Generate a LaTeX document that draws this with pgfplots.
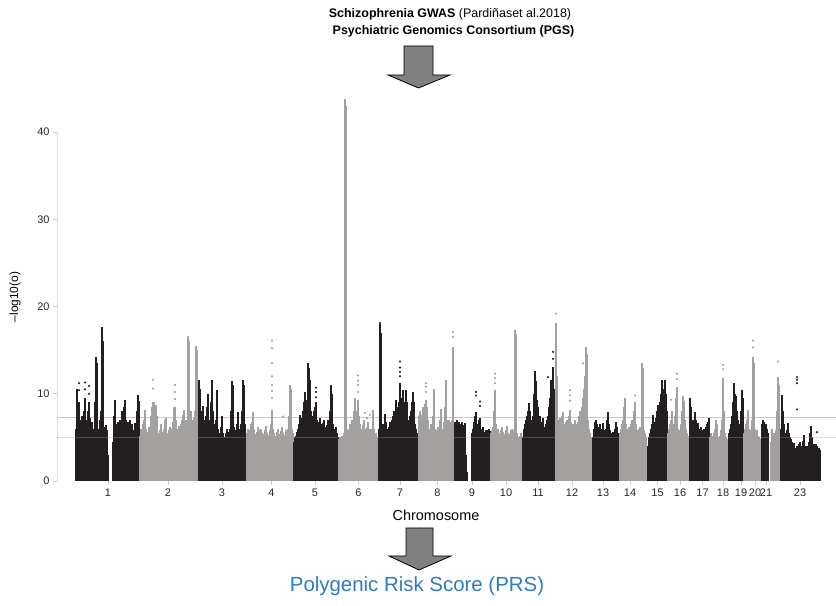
\documentclass[border=0pt]{standalone}
\usepackage{pgfplots}
\pgfplotsset{compat=1.18}
\usepackage{fontspec}
\setmainfont{Liberation Sans}
\definecolor{chrblack}{RGB}{35,31,32}
\definecolor{chrgray}{RGB}{163,160,160}
\definecolor{prsblue}{RGB}{47,123,192}
\definecolor{arrowgray}{RGB}{128,128,128}
\definecolor{sigred}{RGB}{236,186,186}
\definecolor{suglav}{RGB}{150,150,205}
\pgfplotsset{
  blk/.style={ycomb, no marks, draw=chrblack, line width=1.1bp},
  gry/.style={ycomb, no marks, draw=chrgray, line width=1.1bp},
}
\begin{document}
\begin{tikzpicture}[x=1bp,y=1bp]
\useasboundingbox (0,0) rectangle (836,606);
% titles
\node[font=\fontsize{12.5}{14}\selectfont] at (450,592) {\textbf{Schizophrenia GWAS} (Pardiñaset al.2018)};
\node[font=\fontsize{12.5}{14}\selectfont\bfseries] at (453.5,575) {Psychiatric Genomics Consortium (PGS)};
% arrow 1
\draw[fill=arrowgray, line width=0.8bp, line join=miter] (404,560) -- (433,560) -- (433,531) -- (450,531) -- (418.5,518) -- (388,531) -- (404,531) -- cycle;
% arrow 2
\draw[fill=arrowgray, line width=0.8bp, line join=miter] (406,78) -- (433,78) -- (433,50) -- (451,50) -- (419,36) -- (389,50) -- (406,50) -- cycle;
\node[font=\fontsize{20.5}{22}\selectfont, text=prsblue] at (417,20) {Polygenic Risk Score (PRS)};
\node[font=\fontsize{14.5}{16}\selectfont] at (436,91) {Chromosome};
\node[font=\fontsize{12}{14}\selectfont, rotate=90] at (15,309) {--log10(o)};
\begin{axis}[
  at={(57bp,125bp)}, anchor=south west,
  x=1bp, y=8.725bp,
  xmin=57, xmax=836, ymin=0, ymax=40,
  enlargelimits=false, clip=false,
  axis lines*=left,
  x axis line style={draw=none},
  y axis line style={draw=gray!25, line width=0.6bp},
  tick style={draw=gray!40, line width=0.6bp},
  tick align=outside, major tick length=4bp,
  ytick={0,10,20,30,40},
  xtick={108,168,222,271.5,315,358.5,400,437.5,472,506,538,572,603,630,657.5,680,702.5,723,741,755,766,800},
  xticklabels={1,2,3,4,5,6,7,8,9,10,11,12,13,14,15,16,17,18,19,20,21,23},
  tick label style={font=\fontsize{11}{12}\selectfont, text=black!85},
  /pgf/number format/assume math mode=true,
]
% significance line (behind the data)
\addplot[draw=sigred, line width=0.6bp, no marks] coordinates {(57,7.3)(836,7.3)};
% chr1
\addplot[blk] coordinates {(76,6.0)(77,10.5)(78,8.5)(79,9.0)(80,7.0)(81,5.0)(82,7.5)(83,6.5)(84,8.0)(85,9.5)(86,7.0)(87,5.2)(88,8.0)(89,9.0)(90,7.2)(91,5.5)(92,6.8)(93,4.8)(94,6.0)(95,9.0)(96,14.2)(97,13.5)(98,6.0)(99,5.0)(100,7.0)(101,8.0)(102,17.7)(103,16.0)(104,6.2)(105,5.5)(106,6.4)(107,5.8)(108,3.0)
 (113,4.5)(114,7.5)(115,9.3)(116,6.5)(117,5.5)(118,6.8)(119,6.2)(120,7.0)(121,5.4)(122,8.0)(123,7.2)(124,8.5)(125,9.3)(126,7.0)(127,5.5)(128,6.8)(129,6.0)(130,7.0)(131,5.2)(132,6.5)(133,5.8)(134,5.0)(135,6.6)(136,6.0)(137,8.0)(138,9.8)(139,9.2)};
% chr2
\addplot[gry] coordinates {(140,5.2)(141,6.0)(142,5.5)(143,6.5)(144,7.0)(145,8.1)(146,6.0)(147,5.6)(148,5.0)(149,6.2)(150,5.4)(151,7.5)(152,8.5)(153,9.0)(154,9.0)(155,6.0)(156,8.7)(157,7.5)(158,5.5)(159,5.0)(160,5.8)(161,6.5)(162,5.2)(163,5.6)(164,6.0)(165,7.0)(166,7.2)(167,5.5)(168,5.0)(169,5.8)(170,6.2)(171,5.4)(172,6.0)(173,6.8)(174,8.5)(175,8.5)(176,7.0)(177,6.0)(178,5.6)(179,6.3)(180,5.8)(181,6.5)(182,7.0)(183,7.6)(184,8.1)(185,6.5)(186,7.0)(187,6.2)(188,16.5)(189,16.0)(190,7.0)(191,8.0)(192,7.0)(193,6.5)(194,7.2)(195,8.0)(196,15.5)(197,15.0)(198,7.0)};
% chr3
\addplot[blk] coordinates {(199,11.6)(200,10.5)(201,8.0)(202,7.5)(203,8.6)(204,7.0)(205,6.5)(206,7.5)(207,8.5)(208,10.0)(209,7.0)(210,6.0)(211,9.0)(212,11.6)(213,8.0)(214,6.5)(215,5.5)(216,7.0)(217,10.4)(218,6.0)(219,5.2)(220,5.5)(221,6.2)(222,7.4)(223,5.5)(224,5.0)(225,4.8)(226,5.5)(227,6.0)(228,5.2)(229,5.6)(230,6.0)(231,8.0)(232,11.5)(233,11.0)(234,6.2)(235,5.5)(236,5.8)(237,6.5)(238,7.9)(239,6.0)(240,5.6)(241,6.5)(242,8.0)(243,11.6)(244,11.0)(245,6.5)(246,5.5)};
% chr4
\addplot[gry] coordinates {(247,5.5)(248,6.0)(249,5.2)(250,5.8)(251,6.5)(252,6.8)(253,7.9)(254,6.0)(255,5.4)(256,5.0)(257,5.6)(258,6.2)(259,5.8)(260,5.2)(261,6.0)(262,5.5)(263,5.0)(264,5.4)(265,5.8)(266,6.3)(267,5.5)(268,5.0)(269,5.3)(270,5.8)(271,6.5)(272,8.1)(273,6.0)(274,5.5)(275,5.2)(276,5.0)(277,5.6)(278,6.0)(279,5.4)(280,5.2)(281,5.7)(282,6.2)(283,5.5)(284,5.0)(285,5.3)(286,5.8)(287,5.2)(288,6.0)(289,7.5)(290,11.0)(291,10.5)(292,6.0)(293,5.5)};
% chr5
\addplot[blk] coordinates {(294,4.5)(295,5.0)(296,5.2)(297,5.6)(298,6.0)(299,6.5)(300,7.6)(301,6.8)(302,7.2)(303,8.0)(304,9.0)(305,10.2)(306,9.3)(307,8.5)(308,13.5)(309,13.0)(310,11.6)(311,8.0)(312,7.5)(313,7.0)(314,8.0)(315,8.5)(316,9.0)(317,7.0)(318,6.5)(319,6.8)(320,7.2)(321,6.5)(322,6.0)(323,6.6)(324,7.0)(325,6.2)(326,5.8)(327,6.4)(328,7.0)(329,6.0)(330,8.0)(331,11.0)(332,10.0)(333,6.5)(334,6.0)(335,5.8)(336,6.2)(337,5.5)(338,5.0)};
% chr6
\addplot[gry] coordinates {(339,4.8)(340,5.0)(341,4.6)(342,5.2)(343,4.8)(344,5.5)(345,43.8)(346,43.0)(347,6.0)(348,5.5)(349,5.8)(350,6.5)(351,6.0)(352,7.0)(353,6.2)(354,8.0)(355,9.5)(356,8.0)(357,7.0)(358,9.3)(359,7.5)(360,6.5)(361,6.0)(362,5.8)(363,6.4)(364,7.0)(365,6.0)(366,5.6)(367,6.2)(368,6.8)(369,6.0)(370,5.5)(371,6.0)(372,5.4)(373,8.1)(374,6.0)(375,5.2)(376,5.5)(377,5.0)(378,4.8)};
% chr7
\addplot[blk] coordinates {(379,6.0)(380,18.0)(381,17.0)(382,6.5)(383,5.8)(384,6.5)(385,7.7)(386,6.8)(387,6.0)(388,5.5)(389,6.2)(390,6.8)(391,6.0)(392,7.0)(393,7.5)(394,8.0)(395,7.0)(396,9.3)(397,8.5)(398,7.5)(399,9.0)(400,11.2)(401,9.5)(402,8.0)(403,10.4)(404,9.0)(405,7.5)(406,10.4)(407,9.0)(408,7.0)(409,6.5)(410,7.5)(411,8.0)(412,9.0)(413,10.2)(414,9.0)(415,6.5)(416,6.0)(417,5.5)(418,5.0)};
% chr8
\addplot[gry] coordinates {(419,7.5)(420,8.0)(421,7.0)(422,7.6)(423,8.5)(424,7.2)(425,8.8)(426,9.3)(427,8.5)(428,7.0)(429,6.0)(430,5.2)(431,6.5)(432,5.6)(433,7.5)(434,10.6)(435,6.0)(436,5.0)(437,5.8)(438,6.2)(439,5.5)(440,7.0)(441,8.3)(442,5.5)(443,6.0)(444,6.8)(445,8.5)(446,11.6)(447,7.0)(448,6.5)(449,7.0)(450,6.0)(451,6.8)(452,7.0)(453,15.4)};
% chr9
\addplot[blk] coordinates {(455,6.8)(456,6.5)(457,7.0)(458,6.6)(459,6.8)(460,6.5)(461,6.2)(462,6.8)(463,6.0)(464,6.4)(465,6.6)(466,3.0)(467,1.0)
 (472,5.5)(473,6.0)(474,6.8)(475,7.5)(476,7.9)(477,6.5)(478,6.0)(479,7.0)(480,7.2)(481,6.0)(482,5.8)(483,6.2)(484,5.6)(485,5.4)(486,5.8)(487,5.6)(488,5.8)(489,6.0)(490,5.7)};
% chr10
\addplot[gry] coordinates {(491,5.5)(492,5.8)(493,6.2)(494,8.0)(495,10.4)(496,6.5)(497,5.8)(498,6.0)(499,5.5)(500,5.2)(501,5.8)(502,6.2)(503,5.6)(504,5.0)(505,5.4)(506,5.8)(507,6.3)(508,5.5)(509,5.0)(510,5.4)(511,5.8)(512,6.0)(513,5.5)(514,5.8)(515,17.3)(516,16.8)(517,5.5)(518,5.0)(519,4.8)(520,5.2)(521,5.5)(522,5.0)};
% chr11
\addplot[blk] coordinates {(523,5.0)(524,6.0)(525,6.5)(526,7.0)(527,7.5)(528,8.0)(529,8.9)(530,8.0)(531,7.0)(532,6.5)(533,7.5)(534,10.0)(535,12.6)(536,11.5)(537,9.3)(538,8.5)(539,7.0)(540,7.5)(541,6.8)(542,6.5)(543,7.2)(544,6.2)(545,5.8)(546,6.5)(547,7.0)(548,7.5)(549,8.5)(550,9.5)(551,11.6)(552,10.0)(553,13.1)(554,10.6)(555,8.0)};
% chr12
\addplot[gry] coordinates {(556,18.1)(557,12.0)(558,7.0)(559,6.5)(560,7.2)(561,6.8)(562,7.5)(563,7.9)(564,6.5)(565,6.0)(566,6.8)(567,7.0)(568,6.5)(569,7.5)(570,8.1)(571,6.8)(572,6.0)(573,6.5)(574,6.2)(575,7.0)(576,6.5)(577,6.0)(578,6.8)(579,7.5)(580,8.0)(581,7.0)(582,8.5)(583,9.5)(584,10.5)(585,12.0)(586,15.4)(587,14.5)(588,7.0)(589,6.0)(590,5.5)(591,5.0)(592,4.8)};
% chr13
\addplot[blk] coordinates {(593,5.0)(594,6.0)(595,6.8)(596,7.0)(597,6.5)(598,6.2)(599,5.8)(600,6.5)(601,6.0)(602,5.6)(603,6.6)(604,5.8)(605,5.5)(606,6.0)(607,7.0)(608,7.9)(609,6.5)(610,5.8)(611,5.5)(612,5.2)(613,5.6)(614,5.4)(615,6.0)(616,6.8)(617,6.2)(618,5.5)};
% chr14
\addplot[gry] coordinates {(620,5.5)(621,6.0)(622,6.5)(623,7.0)(624,8.5)(625,9.5)(626,6.5)(627,6.0)(628,5.5)(629,6.2)(630,5.8)(631,6.5)(632,7.0)(633,6.0)(634,8.0)(635,9.1)(636,6.5)(637,5.8)(638,5.5)(639,6.0)(640,6.2)(641,5.5)(642,13.5)(643,13.0)(644,5.8)(645,5.5)(646,5.0)(647,3.0)};
% chr15
\addplot[blk] coordinates {(648,4.0)(649,5.0)(650,5.5)(651,6.0)(652,6.5)(653,7.6)(654,6.8)(655,6.5)(656,7.2)(657,8.0)(658,8.7)(659,8.0)(660,9.0)(661,10.0)(662,11.6)(663,10.5)(664,9.5)(665,11.6)(666,10.0)(667,8.0)};
% chr16
\addplot[gry] coordinates {(668,5.5)(669,6.0)(670,6.5)(671,7.0)(672,8.0)(673,6.2)(674,6.5)(675,7.5)(676,9.5)(677,10.8)(678,6.0)(679,5.0)(680,5.8)(681,6.5)(682,8.0)(683,9.7)(684,9.2)(685,7.0)(686,6.0)(687,5.5)(688,5.2)(689,5.0)};
% chr17
\addplot[blk] coordinates {(690,9.5)(691,8.5)(692,7.0)(693,6.5)(694,7.0)(695,7.9)(696,7.0)(697,6.5)(698,6.6)(699,6.0)(700,5.8)(701,6.2)(702,5.6)(703,5.8)(704,6.0)(705,5.5)(706,6.2)(707,6.5)(708,6.8)(709,7.2)};
% chr18
\addplot[gry] coordinates {(710,5.0)(711,5.5)(712,5.2)(713,4.8)(714,5.5)(715,6.0)(716,7.0)(717,6.5)(718,5.0)(719,4.5)(720,5.2)(721,5.8)(722,7.0)(723,11.8)(724,8.0)(725,5.5)(726,5.0)(727,4.8)(728,4.5)};
% chr19
\addplot[blk] coordinates {(729,5.5)(730,6.0)(731,6.5)(732,7.5)(733,9.0)(734,11.2)(735,10.0)(736,9.7)(737,8.0)(738,7.0)(739,6.0)(740,6.5)(741,8.0)(742,10.4)(743,9.5)};
% chr20
\addplot[gry] coordinates {(744,5.5)(745,6.0)(746,6.5)(747,7.0)(748,8.1)(749,6.0)(750,5.5)(751,5.8)(752,7.0)(753,14.2)(754,13.5)(755,6.0)(756,5.5)(757,5.8)(758,5.2)(759,5.0)(760,4.8)};
% chr21
\addplot[blk] coordinates {(762,6.5)(763,7.0)(764,6.8)(765,6.2)(766,6.5)(767,6.0)(768,5.5)};
% chr22
\addplot[gry] coordinates {(771,4.5)(772,6.0)(773,5.0)(774,5.5)(775,5.0)(776,5.8)(777,8.0)(778,11.9)(779,11.0)(780,6.0)};
% chr23
\addplot[blk] coordinates {(781,6.0)(782,9.8)(783,8.0)(784,6.5)(785,5.5)(786,5.2)(787,5.8)(788,6.6)(789,5.5)(790,5.0)(791,4.8)(792,4.5)(793,4.0)(794,4.3)(795,3.8)(796,3.6)(797,4.0)(798,3.5)(799,4.2)(800,4.5)(801,4.0)(802,3.8)(803,4.6)(804,5.3)(805,4.0)(806,3.6)(807,4.0)(808,3.8)(809,4.5)(810,5.5)(811,6.3)(812,5.0)(813,4.0)(814,4.2)(815,3.8)(816,4.2)(817,4.0)(818,3.6)(819,3.8)(820,3.5)};
% isolated points
\addplot[only marks, mark=*, mark size=0.85bp, color=chrgray] coordinates {(153,11.6)(153,10.6)(175,11.0)(175,10.2)(175,9.4)(188,16.5)(272,16.1)(272,15.2)(272,13.5)(272,12.0)(272,11.0)(272,10.3)(272,9.5)(283,7.4)(358,12.1)(358,11.5)(358,11.0)(358,10.2)(365,7.8)(367,7.2)(370,7.6)(426,11.2)(426,10.8)(426,10.2)(453,17.1)(453,16.5)(495,12.3)(495,11.8)(495,11.2)(556,19.2)(570,10.4)(570,9.8)(570,9.2)(583,13.5)(635,9.8)(677,12.3)(677,11.7)(671,9.3)(723,13.3)(723,12.8)(753,16.1)(753,15.3)(778,13.7)};
\addplot[only marks, mark=*, mark size=0.85bp, color=chrblack] coordinates {(79,11.2)(79,10.4)(85,11.3)(85,10.5)(89,10.9)(89,10.0)(316,10.7)(316,10.2)(316,9.6)(400,13.7)(400,13.0)(400,12.5)(400,12.0)(380,18.1)(476,10.2)(476,9.8)(480,9.1)(480,8.6)(553,14.8)(553,14.0)(548,11.9)(797,11.9)(797,11.6)(797,11.2)(797,8.2)(817,5.6)};
% suggestive line (faint, over the data)
\addplot[draw=suglav, opacity=0.35, line width=0.6bp, no marks] coordinates {(57,5)(836,5)};
\end{axis}
\end{tikzpicture}
\end{document}
